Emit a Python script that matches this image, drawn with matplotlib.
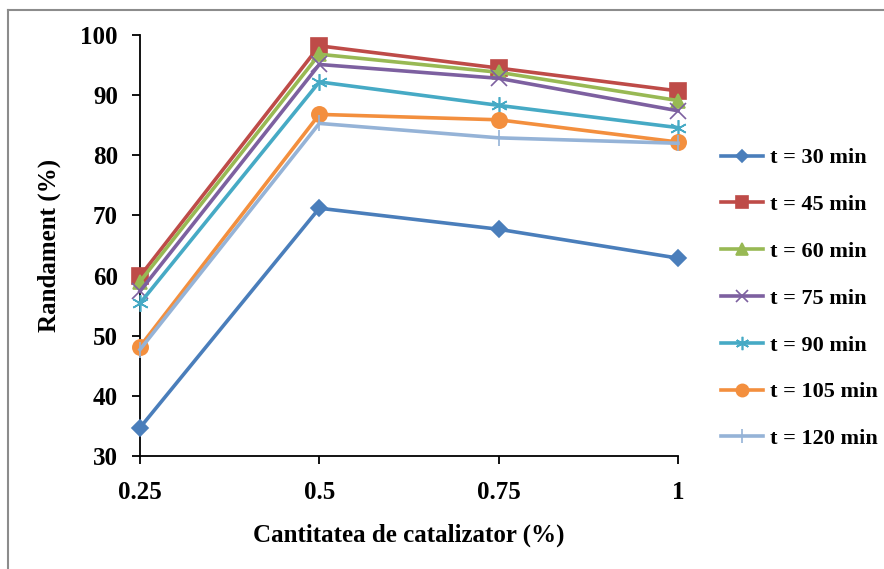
import matplotlib
matplotlib.use("Agg")
import matplotlib.pyplot as plt
from matplotlib.lines import Line2D

categories = ["0.25", "0.5", "0.75", "1"]
series_labels = ["t = 30 min", "t = 45 min", "t = 60 min", "t = 75 min",
                 "t = 90 min", "t = 105 min", "t = 120 min"]
t30 = [34.7, 71.2, 67.7, 62.9]
t45 = [59.9, 98.2, 94.5, 90.7]
t60 = [59.0, 96.8, 93.8, 89.1]
t75 = [57.4, 95.1, 92.8, 87.4]
t90 = [55.4, 92.2, 88.3, 84.6]
t105 = [48.2, 86.8, 85.9, 82.2]
t120 = [47.7, 85.3, 82.9, 82.0]
yticks = [30, 40, 50, 60, 70, 80, 90, 100]

series = [t30, t45, t60, t75, t90, t105, t120]
colors = ["#4A7EBB", "#BE4B48", "#98B954", "#7D60A0", "#46AAC5", "#F38F3E", "#95B3D7"]
markers = ["D", "s", "^", "x", (6, 2, 0), "o", "|"]
msizes = [8, 11, 10, 11, 12, 11, 12]

plt.rcParams["font.family"] = ["Liberation Serif", "DejaVu Serif"]
plt.rcParams["font.weight"] = "bold"

W, H = 884, 569
fig = plt.figure(figsize=(W / 100, H / 100), dpi=100)

# outer chart frame
fig.add_artist(Line2D([8 / W, 8 / W], [0, 1 - 10 / H], color="#8C8C8C", lw=1.5))
fig.add_artist(Line2D([8 / W, 1], [1 - 10 / H, 1 - 10 / H], color="#8C8C8C", lw=1.5))

ax = fig.add_axes([140 / W, 1 - 456 / H, (678 - 140) / W, (456 - 35) / H])
x = list(range(len(categories)))
handles = []
for vals, lab, c, m, ms in zip(series, series_labels, colors, markers, msizes):
    h, = ax.plot(x, vals, color=c, lw=2.6, marker=m, markersize=ms,
                 markerfacecolor=c, markeredgecolor=c, markeredgewidth=1.2,
                 label=lab, clip_on=False, zorder=3)
    handles.append(h)

ax.set_xlim(0, 3)
ax.set_ylim(30, 100)
ax.set_xticks(x)
ax.set_xticklabels(categories)
ax.set_yticks(yticks)
ax.set_yticklabels([str(v) for v in yticks])
for s in ["top", "right"]:
    ax.spines[s].set_visible(False)
for s in ["left", "bottom"]:
    ax.spines[s].set_linewidth(1.3)
ax.tick_params(axis="both", direction="out", length=6, width=1.3, labelsize=18)
ax.tick_params(axis="x", pad=12)
ax.tick_params(axis="y", pad=10)
ax.set_xlabel("Cantitatea de catalizator (%)", fontsize=18, fontweight="bold", labelpad=14)
ax.set_ylabel("Randament (%)", fontsize=18, fontweight="bold", labelpad=14)

fig.legend(handles=handles, loc="upper left", bbox_to_anchor=(712 / W, 1 - 139 / H),
           frameon=False, prop={"weight": "bold", "size": 16},
           labelspacing=1.18, handlelength=1.9, handletextpad=0.3, markerscale=0.8,
           borderaxespad=0)

fig.savefig("out.png", dpi=100, facecolor="white")
